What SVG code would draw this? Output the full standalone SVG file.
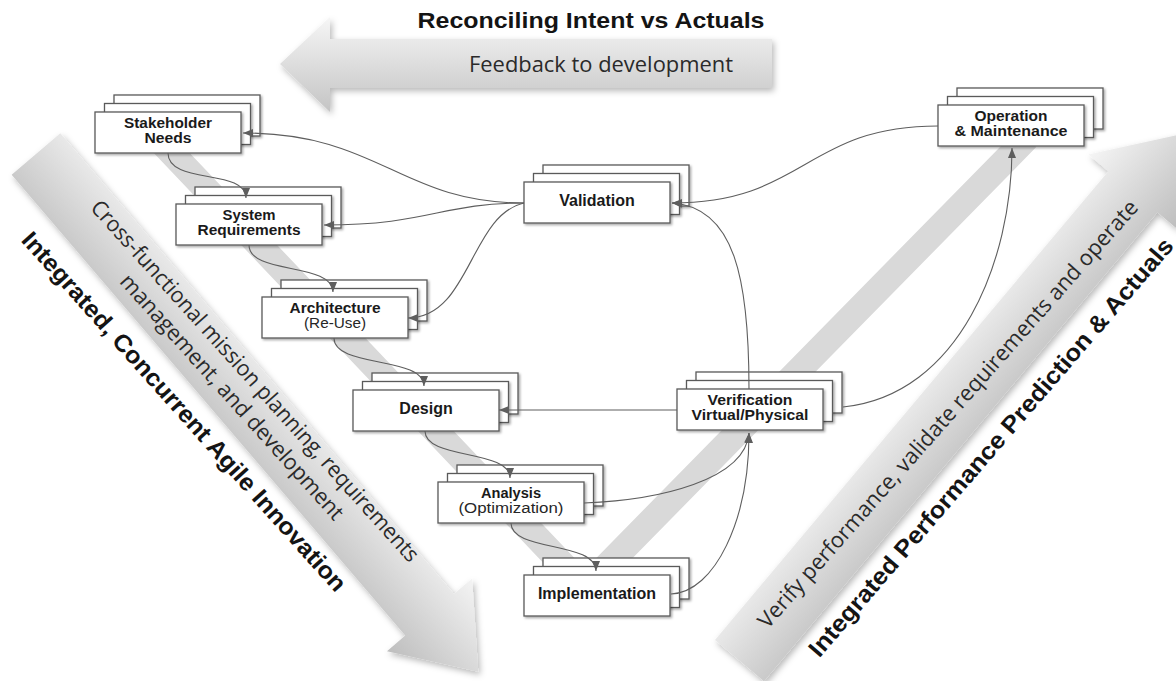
<svg xmlns="http://www.w3.org/2000/svg" xmlns:xlink="http://www.w3.org/1999/xlink" width="1176" height="681" viewBox="0 0 1176 681">
  <style>
    .box { fill: #ffffff; stroke: #5a5a5a; stroke-width: 1.3; filter: url(#boxShadow); }
    .lbl { font-family: "Liberation Sans", Arial, sans-serif; font-weight: bold; fill: #1a1a1a; text-anchor: middle; }
    .lbl2 { font-size: 14px; }
    .lbl1 { font-size: 16px; }
    .sub { font-family: "Liberation Sans", Arial, sans-serif; font-weight: normal; font-size: 14px; fill: #262626; text-anchor: middle; }
    .conn { fill: none; stroke: #5e5e5e; stroke-width: 1.1; marker-end: url(#head); }
    .band { fill: none; stroke: #d9d9d9; stroke-width: 26; stroke-linejoin: miter; }
    .title { font-family: "Liberation Sans", Arial, sans-serif; font-weight: bold; fill: #141414; }
    .note { font-family: "Open Sans", "Liberation Sans", sans-serif; fill: #2a2a2a; }
  </style>
  <defs>
    <linearGradient id="gTop" x1="0" y1="17" x2="0" y2="112" gradientUnits="userSpaceOnUse">
      <stop offset="0" stop-color="#f6f6f6"/>
      <stop offset="1" stop-color="#c4c4c4"/>
    </linearGradient>
    <linearGradient id="gDiag" x1="0" y1="-56" x2="0" y2="56" gradientUnits="userSpaceOnUse">
      <stop offset="0" stop-color="#f4f4f4"/>
      <stop offset="1" stop-color="#bebebe"/>
    </linearGradient>
    <filter id="arrowShadow" x="-10%" y="-10%" width="125%" height="125%">
      <feDropShadow dx="2" dy="3" stdDeviation="3" flood-color="#000" flood-opacity="0.28"/>
    </filter>
    <filter id="boxShadow" x="-10%" y="-15%" width="125%" height="140%">
      <feDropShadow dx="1.5" dy="1.5" stdDeviation="1.2" flood-color="#000" flood-opacity="0.35"/>
    </filter>
    <marker id="head" viewBox="0 0 10 8" refX="10" refY="4" markerWidth="10" markerHeight="8" markerUnits="userSpaceOnUse" orient="auto">
      <path d="M0,0 L10,4 L0,8 z" fill="#5e5e5e"/>
    </marker>
    <!-- three stacked sheets used by every step -->
    <g id="stack">
      <rect class="box" x="19" y="-17" width="146" height="41"/>
      <rect class="box" x="9.5" y="-8.5" width="146" height="41"/>
      <rect class="box" x="0" y="0" width="146" height="41"/>
    </g>
  </defs>

  <rect width="1176" height="681" fill="#ffffff"/>

  <!-- large block arrows -->
  <g id="arrow-feedback" filter="url(#arrowShadow)">
    <polygon points="280,64 330,17 330,39 772,39 772,88 330,88 330,112" fill="url(#gTop)"/>
  </g>
  <g id="arrow-develop" filter="url(#arrowShadow)">
    <polygon transform="translate(36,154) rotate(49.5)" points="0,-32 606,-32 606,-56 681,0 606,56 606,32 0,32" fill="url(#gDiag)"/>
  </g>
  <g id="arrow-verify" filter="url(#arrowShadow)">
    <polygon transform="translate(739.5,660.6) rotate(-50)" points="0,-32 612,-32 612,-58 687,0 612,58 612,32 0,32" fill="url(#gDiag)"/>
  </g>

  <!-- V-shaped life-cycle band -->
  <polyline id="vee" class="band" points="148,128 585,588 1027,138"/>

  <!-- arrow captions -->
  <g id="captions">
    <text class="title" x="591" y="28" font-size="22" text-anchor="middle" textLength="347" lengthAdjust="spacingAndGlyphs">Reconciling Intent vs Actuals</text>
    <text class="note" x="601" y="72" font-size="22" text-anchor="middle" textLength="264" lengthAdjust="spacingAndGlyphs">Feedback to development</text>
    <text class="note" font-size="22" text-anchor="middle" transform="translate(249.5,386) rotate(48)" textLength="478" lengthAdjust="spacingAndGlyphs">Cross-functional mission planning, requirements</text>
    <text class="note" font-size="22" text-anchor="middle" transform="translate(226.5,402) rotate(48)" textLength="322" lengthAdjust="spacingAndGlyphs">management, and development</text>
    <text class="title" font-size="24" text-anchor="middle" transform="translate(178,417) rotate(48.2)" textLength="473" lengthAdjust="spacingAndGlyphs">Integrated, Concurrent Agile Innovation</text>
    <text class="note" font-size="22" text-anchor="middle" transform="translate(953.5,419) rotate(-48.6)" textLength="562" lengthAdjust="spacingAndGlyphs">Verify performance, validate requirements and operate</text>
    <text class="title" font-size="24" text-anchor="middle" transform="translate(997,452.6) rotate(-49.2)" textLength="544" lengthAdjust="spacingAndGlyphs">Integrated Performance Prediction &amp; Actuals</text>
  </g>

  <!-- process steps -->
  <g id="node-stakeholder-needs" transform="translate(95,112)">
    <use xlink:href="#stack" href="#stack"/>
    <text class="lbl lbl2" x="73" y="15.5" textLength="88" lengthAdjust="spacingAndGlyphs">Stakeholder</text>
    <text class="lbl lbl2" x="73" y="30.5" textLength="47" lengthAdjust="spacingAndGlyphs">Needs</text>
  </g>
  <g id="node-system-requirements" transform="translate(176,204)">
    <use xlink:href="#stack" href="#stack"/>
    <text class="lbl lbl2" x="73" y="15.5" textLength="53" lengthAdjust="spacingAndGlyphs">System</text>
    <text class="lbl lbl2" x="73" y="30.5" textLength="103" lengthAdjust="spacingAndGlyphs">Requirements</text>
  </g>
  <g id="node-architecture" transform="translate(262,297)">
    <use xlink:href="#stack" href="#stack"/>
    <text class="lbl lbl2" x="73" y="15.5" textLength="91" lengthAdjust="spacingAndGlyphs">Architecture</text>
    <text class="sub" x="73" y="30.5" textLength="62" lengthAdjust="spacingAndGlyphs">(Re-Use)</text>
  </g>
  <g id="node-design" transform="translate(353,390)">
    <use xlink:href="#stack" href="#stack"/>
    <text class="lbl lbl1" x="73" y="23.5">Design</text>
  </g>
  <g id="node-analysis" transform="translate(438,482)">
    <use xlink:href="#stack" href="#stack"/>
    <text class="lbl lbl2" x="73" y="15.5" textLength="60" lengthAdjust="spacingAndGlyphs">Analysis</text>
    <text class="sub" x="73" y="30.5" textLength="105" lengthAdjust="spacingAndGlyphs">(Optimization)</text>
  </g>
  <g id="node-implementation" transform="translate(524,575)">
    <use xlink:href="#stack" href="#stack"/>
    <text class="lbl lbl1" x="73" y="23.5">Implementation</text>
  </g>
  <g id="node-validation" transform="translate(524,182)">
    <use xlink:href="#stack" href="#stack"/>
    <text class="lbl lbl1" x="73" y="23.5">Validation</text>
  </g>
  <g id="node-verification" transform="translate(677,389)">
    <use xlink:href="#stack" href="#stack"/>
    <text class="lbl lbl2" x="73" y="16" textLength="85" lengthAdjust="spacingAndGlyphs">Verification</text>
    <text class="lbl lbl2" x="73" y="31" textLength="117" lengthAdjust="spacingAndGlyphs">Virtual/Physical</text>
  </g>
  <g id="node-operation" transform="translate(938,105)">
    <use xlink:href="#stack" href="#stack"/>
    <text class="lbl lbl2" x="73" y="16" textLength="73" lengthAdjust="spacingAndGlyphs">Operation</text>
    <text class="lbl lbl2" x="73" y="31" textLength="113" lengthAdjust="spacingAndGlyphs">&amp; Maintenance</text>
  </g>

  <!-- connectors -->
  <g id="connectors">
    <path class="conn" d="M168,153 C168,185 246,168 246,198"/>
    <path class="conn" d="M249,245 C249,275 333,262 333,292"/>
    <path class="conn" d="M334,338 C334,368 424,356 424,386"/>
    <path class="conn" d="M425,431 C425,460 510,449 510,478"/>
    <path class="conn" d="M511,523 C511,552 596,541 596,571"/>
    <path class="conn" d="M671,594 C715,592 749,520 749,433"/>
    <path class="conn" d="M584,503 C660,500 745,480 749,433"/>
    <path class="conn" d="M749,389 C749,280 735,207 672,203"/>
    <path class="conn" d="M938,126 C805,126 805,203 672,203"/>
    <path class="conn" d="M524,203 C400,203 380,133 243,133"/>
    <path class="conn" d="M524,203 C440,203 430,225 324,225"/>
    <path class="conn" d="M524,203 C470,215 470,318 408,318"/>
    <path class="conn" d="M677,410 L499,410"/>
    <path class="conn" d="M843,407 C960,395 1012,260 1012,148"/>
  </g>
</svg>
